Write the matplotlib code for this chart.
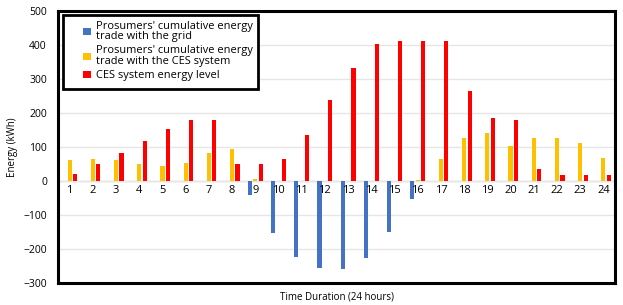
import matplotlib.pyplot as plt
import numpy as np
from matplotlib.patches import Rectangle

plt.rcParams['font.family'] = ['Open Sans', 'DejaVu Sans']

# data
hours = list(range(1, 25))
grid_trade = [0, 0, 0, 0, 0, 0, 0, 0, -42, -152, -224, -255, -258, -227, -150, -54,
              0, 0, 0, 0, 0, 0, 0, 0]
ces_trade = [61, 65, 61, 49, 44, 54, 81, 93, 5, 0, 0, 0, 0, 0, 0, 2,
             65, 126, 142, 103, 126, 126, 111, 68]
ces_level = [20, 51, 83, 117, 152, 180, 180, 51, 51, 66, 136, 237, 333, 404, 413, 413,
             413, 265, 185, 178, 34, 19, 19, 19]

labels = ["Prosumers' cumulative energy\ntrade with the grid",
          "Prosumers' cumulative energy\ntrade with the CES system",
          "CES system energy level"]
colors = ['#4472C4', '#FFC000', '#FF0000']

fig = plt.figure(figsize=(6.23, 3.05), dpi=100)
ax = fig.add_axes([58/623, 22/305, 557/623, 272/305])

x = np.array(hours)
w = 0.18
off = 0.235
ax.bar(x - off, grid_trade, w, color=colors[0], label=labels[0], zorder=3)
ax.bar(x, ces_trade, w, color=colors[1], label=labels[1], zorder=3)
ax.bar(x + off, ces_level, w, color=colors[2], label=labels[2], zorder=3)

ax.set_xlim(0.5, 24.5)
ax.set_ylim(-300, 500)
ax.set_yticks(range(-300, 501, 100))
ax.yaxis.grid(True, color='#E6E6E6', linewidth=1, zorder=0)
ax.axhline(0, color='#D9D9D9', linewidth=1, zorder=1)
ax.set_xticks([])
ax.tick_params(axis='y', length=0, labelsize=7.5, pad=8)

for h in hours:
    ax.text(h, -12, str(h), ha='center', va='top', fontsize=8)

for s in ax.spines.values():
    s.set_linewidth(2.2)
    s.set_color('black')

ax.set_ylabel('Energy (kWh)', fontsize=7, labelpad=4)
ax.set_xlabel('Time Duration (24 hours)', fontsize=7, labelpad=6)

# legend box drawn separately, the entries sit off-centre in it
ax.add_patch(Rectangle((0.0084, 0.713), 0.351, 0.272, transform=ax.transAxes,
                       facecolor='white', edgecolor='black', linewidth=2, zorder=4))
leg = ax.legend(loc='upper left', bbox_to_anchor=(0.035, 0.985), fontsize=7.9,
                handlelength=0.7, handleheight=0.7, handletextpad=0.45,
                labelspacing=0.3, borderpad=0, frameon=False)
for t in leg.get_texts():
    t.set_linespacing(0.95)
leg.set_zorder(5)

fig.savefig('out.png', dpi=100)
